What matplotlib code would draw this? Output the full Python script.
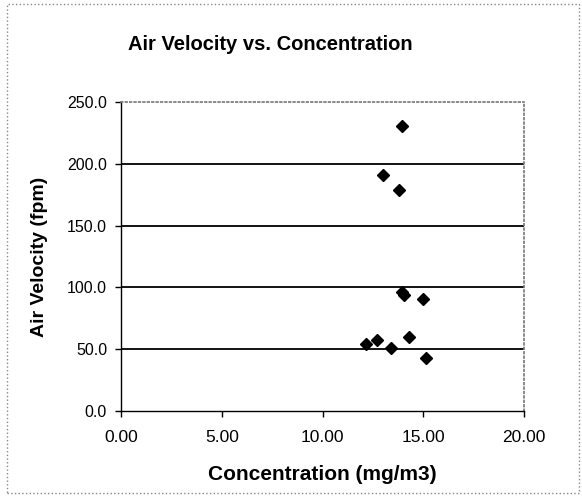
import matplotlib
matplotlib.use("Agg")
import matplotlib.pyplot as plt
from matplotlib.patches import Rectangle

# values
concentration = [13.93, 13.00, 13.78, 13.95, 14.04, 14.99, 12.16, 12.70, 13.40, 14.29, 15.14]
velocity = [230.6, 190.9, 178.8, 96.3, 93.9, 90.6, 54.2, 57.4, 51.0, 59.9, 42.9]
x_ticks = [0, 5, 10, 15, 20]
y_ticks = [0, 50, 100, 150, 200, 250]

plt.rcParams['font.family'] = ['Liberation Sans', 'DejaVu Sans']

fig = plt.figure(figsize=(5.82, 4.97), dpi=100)
ax = fig.add_axes([121 / 582, 1 - 411 / 497, 403 / 582, 309 / 497])

# horizontal gridlines like Excel
for v in y_ticks[1:-1]:
    ax.axhline(v, color='black', linewidth=1.3, zorder=1)

ax.plot(concentration, velocity, linestyle='none', marker='D', markersize=6,
        color='black', zorder=3)

ax.set_xlim(0, 20)
ax.set_ylim(0, 250)
ax.set_xticks(x_ticks)
ax.set_yticks(y_ticks)
ax.set_xticklabels([f"{t:.2f}" for t in x_ticks])
ax.set_yticklabels([f"{t:.1f}" for t in y_ticks])
ax.tick_params(axis='both', length=4, width=1, color='black')
ax.tick_params(axis='y', labelsize=11.5, pad=6)
ax.tick_params(axis='x', labelsize=12.5, pad=10)

for side in ['top', 'right']:
    ax.spines[side].set_color('#777777')
    ax.spines[side].set_linestyle(':')
    ax.spines[side].set_linewidth(1.2)
for side in ['left', 'bottom']:
    ax.spines[side].set_color('black')
    ax.spines[side].set_linewidth(1.0)

ax.set_xlabel('Concentration (mg/m3)', fontsize=15, fontweight='bold', labelpad=14)
ax.set_ylabel('Air Velocity (fpm)', fontsize=14, fontweight='bold', labelpad=14)

fig.text(270 / 582, 1 - 45 / 497, 'Air Velocity vs. Concentration', fontsize=14.5,
         fontweight='bold', ha='center', va='center')

# dotted chart-area border
fig.patches.append(Rectangle((7 / 582, 4 / 497), 572 / 582, 489 / 497,
                             transform=fig.transFigure, fill=False,
                             edgecolor='#888888', linestyle=':', linewidth=1.0))

fig.savefig('out.png', dpi=100)
